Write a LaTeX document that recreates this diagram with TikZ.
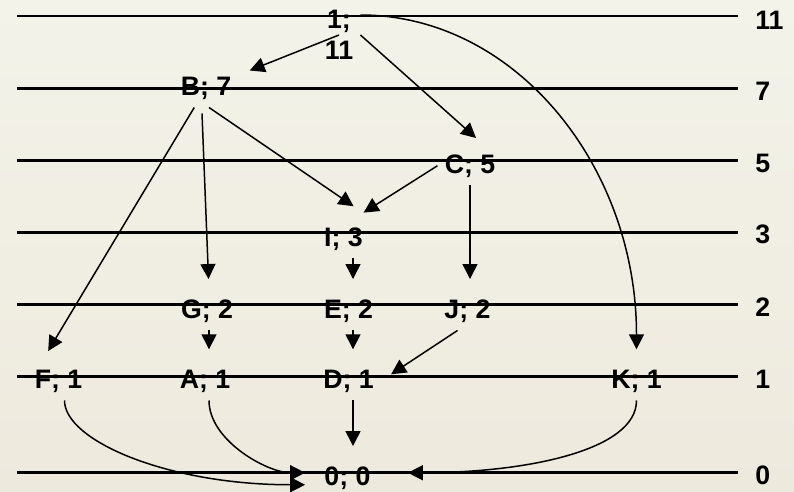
\documentclass[tikz,border=0pt]{standalone}
\usepackage{fontspec}
\setmainfont{Liberation Sans}
\usetikzlibrary{arrows.meta}
\definecolor{bgtop}{RGB}{243,243,233}
\definecolor{bgbottom}{RGB}{238,233,221}
\tikzset{
    rung/.style={line width=1.25pt, draw=black},
    event/.style={inner xsep=0.14cm, inner ysep=0.16cm, font=\fontsize{15.2}{17.6}\selectfont\bfseries},
    levnum/.style={anchor=base west, inner sep=0pt, font=\fontsize{15.2}{17.6}\selectfont\bfseries},
    arrow/.style={line width=0.85pt, -{Triangle[length=0.3cm, width=0.3cm]}, shorten >=0.24cm}
}
\begin{document}
\begin{tikzpicture}[x=0.02cm, y=0.02cm]
    % Background
    \shade [top color=bgtop, bottom color=bgbottom] (0,0) rectangle (794,-491);
    \useasboundingbox (0,0) rectangle (794,-491);

    % Levels and their numbers
    \foreach \yy/\lab/\bl in {16/11/29, 88.5/7/100, 160.5/5/172, 232.5/3/243, 304.5/2/316, 376.5/1/388, 472.5/0/484} {
        \draw [rung] (17,-\yy) -- (738,-\yy);
        \node (lev\lab) [levnum] at (755,-\bl) {\lab};
    }

    % Events
    \node (top) [event, align=center] at (339,-35) {1;\\11};
    \node (B) [event, anchor=base] at (206,-95) {B; 7};
    \node (C) [event, anchor=base] at (470,-173) {C; 5};
    \node (I) [event, anchor=base] at (343.5,-246) {I; 3};
    \node (G) [event, anchor=base] at (207,-318) {G; 2};
    \node (E) [event, anchor=base] at (348.5,-318) {E; 2};
    \node (J) [event, anchor=base] at (467.5,-318) {J; 2};
    \node (F) [event, anchor=base] at (58.5,-388) {F; 1};
    \node (A) [event, anchor=base] at (205,-388) {A; 1};
    \node (D) [event, anchor=base] at (348.5,-388) {D; 1};
    \node (K) [event, anchor=base] at (636.5,-388) {K; 1};
    \node (zero) [event, anchor=base] at (347.5,-485) {0; 0};

    \coordinate (colA) at (209,0);
    \coordinate (colE) at (353,0);

    % Connectors from the top
    \draw [arrow] (top.center) -- (B);
    \draw [arrow] (top.east) -- ([shift={(15,0)}]C.north);
    \draw [arrow] ([shift={(0,-13)}]top.north east) .. controls +(155,0) and +(0,195) .. (K.north);

    % Middle connectors
    \draw [arrow] (B) -- ([shift={(-16.5,0)}]F.north);
    \draw [arrow] ([shift={(-4,-6)}]B.south) -- (G.north -| colA);
    \draw [arrow] ([shift={(3,0)}]B.south) -- ([shift={(20,6)}]I.north);
    \draw [arrow] (C.west) -- ([shift={(10,0)}]I.north);
    \draw [arrow] (C.south) -- (C.south |- J.north);
    \draw [arrow] (I.south -| colE) -- (E.north -| colE);
    \draw [arrow] (G.south -| colA) -- (A.north -| colA);
    \draw [arrow] (E.south -| colE) -- (D.north -| colE);
    \draw [arrow] ([shift={(-10,0)}]J.south) -- (D.east);

    % Into the end event
    \draw [arrow] (D.south -| colE) -- (zero.north -| colE);
    \draw [arrow] ([shift={(6,0)}]F.south) .. controls +(0,-40) and +(-150,0) .. ([shift={(0,-7)}]zero.west);
    \draw [arrow] (A.south -| colA) .. controls +(0,-40) and +(-50,0) .. ([shift={(0,5)}]zero.west);
    \draw [arrow] (K.south) .. controls +(0,-50) and +(130,0) .. ([shift={(18,5)}]zero.east);
\end{tikzpicture}
\end{document}
